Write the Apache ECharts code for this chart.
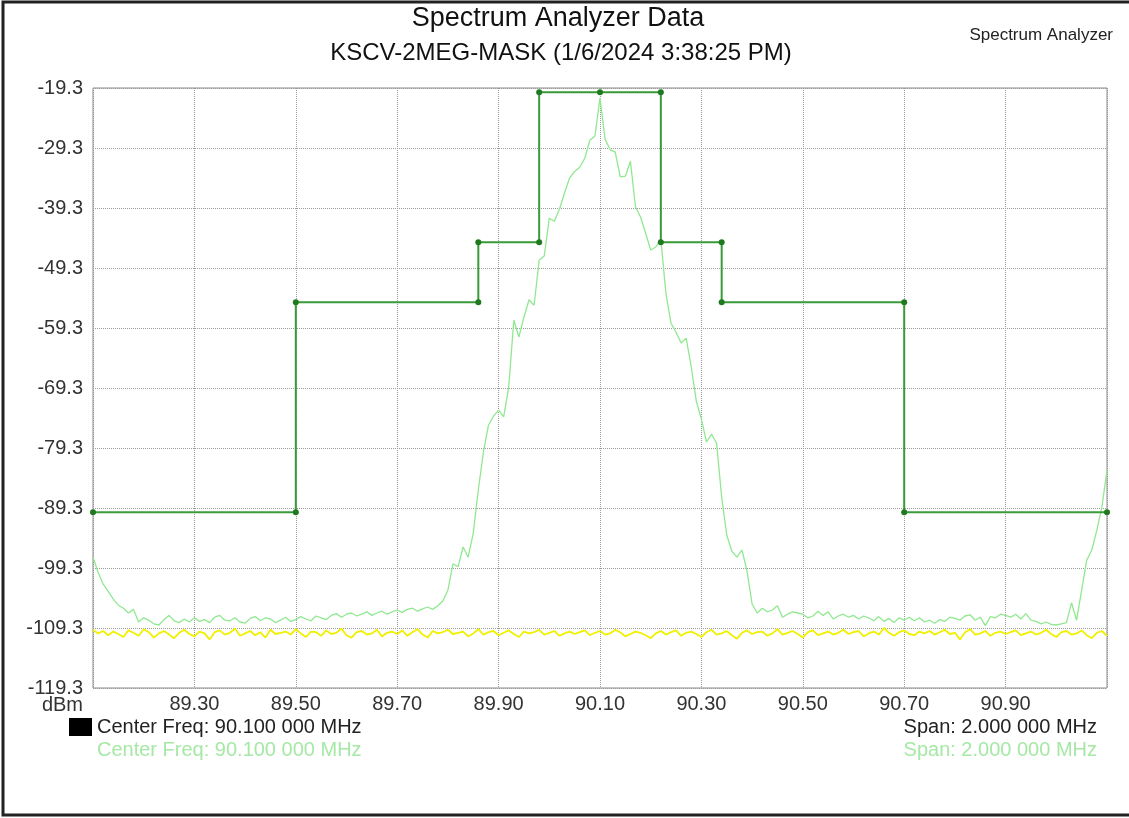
<!DOCTYPE html>
<html>
<head>
<meta charset="utf-8">
<title>Spectrum Analyzer Data</title>
<script src="https://cdn.jsdelivr.net/npm/echarts@6/dist/echarts.min.js"></script>
<style>
    html, body { margin: 0; padding: 0; background: #fff; }
    #chart { width: 1129px; height: 818px; }
</style>
</head>
<body>
<div id="chart"></div>
<script>
// sweep: 89.10 MHz .. 91.10 MHz, one bin every 10 kHz
var startFreq = 89.10;
var stepFreq = 0.01;

var xTicks = ['89.30', '89.50', '89.70', '89.90', '90.10', '90.30', '90.50', '90.70', '90.90'];
var yTicks = ['-119.3', '-109.3', '-99.3', '-89.3', '-79.3', '-69.3', '-59.3', '-49.3', '-39.3', '-29.3', '-19.3'];

// light green trace (dBm)
var traceLevels = [
    -97.5, -100.0, -102.0, -103.2, -104.5, -105.5, -106.0, -106.8, -106.2, -108.3,
    -107.6, -108.0, -108.6, -108.8, -107.9, -107.2, -108.1, -108.4, -107.8, -108.3,
    -107.6, -108.2, -107.9, -108.4, -107.5, -107.2, -108.0, -108.1, -107.6, -108.3,
    -108.5, -107.7, -107.4, -108.1, -107.6, -107.8, -108.4, -108.0, -107.5, -108.2,
    -107.9, -107.4, -107.8, -108.1, -107.3, -107.6, -107.9, -107.2, -106.9, -107.5,
    -107.0, -106.8, -107.3, -107.0, -106.6, -107.2, -106.8, -106.5, -107.0, -106.6,
    -106.3, -106.7, -106.2, -106.0, -106.5, -106.1, -105.8, -106.2, -105.6, -104.8,
    -103.0, -98.6, -99.1, -95.8, -97.5, -93.5, -86.3, -80.0, -75.5, -74.0,
    -73.0, -74.1, -69.1, -58.0, -60.8, -57.5, -54.6, -55.5, -48.0, -47.3,
    -41.0, -41.5, -39.5, -36.8, -34.3, -33.2, -32.5, -31.0, -28.0, -27.3,
    -21.0, -27.8, -29.6, -30.0, -34.1, -34.0, -31.5, -39.1, -40.8, -43.5,
    -46.3, -45.8, -44.5, -53.5, -58.5, -60.0, -61.8, -61.0, -65.8, -71.5,
    -74.5, -78.3, -77.0, -78.5, -87.5, -93.8, -96.5, -97.5, -96.3, -99.8,
    -105.3, -106.8, -106.0, -106.6, -106.3, -105.6, -107.5, -107.0, -106.6, -106.8,
    -107.0, -107.6, -107.3, -106.5, -107.2, -106.6, -107.8, -107.3, -107.0, -107.5,
    -107.2, -107.8, -107.3, -107.6, -108.1, -107.4, -108.2, -107.7, -108.4, -107.6,
    -108.0, -107.5, -108.1, -107.6, -108.3, -108.0, -108.5, -107.9, -108.2, -107.5,
    -107.7, -108.0, -107.3, -107.1, -108.0, -107.5, -108.9, -107.4, -107.6, -107.0,
    -107.2, -107.5, -107.0, -107.8, -106.9, -108.0, -108.2, -108.6, -108.3, -108.7,
    -108.8, -108.6, -108.4, -105.1, -108.0, -103.0, -98.0, -96.3, -93.0, -89.1,
    -83.0
];

// yellow noise floor trace (dBm)
var floorLevels = [
    -109.6, -110.2, -109.8, -110.5, -109.9, -110.3, -110.8, -109.7, -110.1, -110.6,
    -109.5, -110.0, -110.9, -110.2, -109.8, -110.4, -111.0, -110.1, -109.6, -110.3,
    -110.7, -109.9, -110.2, -111.2, -110.0, -109.7, -110.4, -110.1, -109.4, -110.6,
    -110.2, -109.8, -110.5, -110.0, -110.9, -109.6, -110.3, -110.1, -109.9, -110.4,
    -109.5, -110.2, -110.8, -109.9, -110.0, -110.6, -109.7, -110.3, -110.1, -109.4,
    -110.5, -110.9, -110.0, -109.8, -110.4, -110.2, -109.6, -110.7, -110.1, -109.9,
    -110.3, -109.7, -110.6, -110.0, -109.5, -110.4, -110.9, -109.8, -110.2, -110.0,
    -109.6, -110.3, -110.1, -109.9, -110.7, -110.2, -109.5, -110.4, -110.0, -109.8,
    -110.5, -110.1, -109.7, -110.3, -110.8, -109.9, -110.2, -110.0, -109.6, -110.4,
    -110.1, -109.8, -110.6, -110.2, -109.9, -110.3, -110.0, -109.7, -110.5, -110.1,
    -109.8, -110.4, -110.2, -109.6, -110.0, -110.7, -110.3, -109.9, -110.1, -110.5,
    -111.0, -110.2, -109.8, -110.4, -110.0, -109.7, -110.6, -110.1, -109.9, -110.3,
    -110.8, -110.0, -109.6, -110.4, -110.2, -109.8, -110.5, -111.1, -110.1, -109.7,
    -110.3, -110.0, -109.9, -110.6, -110.2, -109.5, -110.4, -110.1, -109.8, -110.3,
    -110.9, -110.0, -109.7, -110.5, -110.2, -109.9, -110.4, -110.1, -109.6, -110.3,
    -110.0, -109.8, -110.7, -110.2, -109.9, -110.4, -109.3, -110.1, -110.6, -110.0,
    -109.7, -110.3, -110.5, -109.9, -110.2, -109.8, -110.4, -110.0, -109.6, -110.3,
    -110.1, -111.2, -110.0, -109.5, -110.4, -110.2, -109.8, -110.6, -110.1, -109.9,
    -110.3, -110.0, -109.7, -110.5, -110.2, -109.9, -110.4, -110.1, -109.6, -110.3,
    -110.8, -110.0, -109.8, -110.4, -110.2, -109.7, -110.5, -111.0, -110.1, -109.8,
    -110.6
];

// limit mask corners
var maskFreqs = [89.10, 89.50, 89.50, 89.86, 89.86, 89.98, 89.98, 90.10, 90.22, 90.22, 90.34, 90.34, 90.70, 90.70, 91.10];
var maskLevels = [-90, -90, -55, -55, -45, -45, -20, -20, -20, -45, -45, -55, -55, -90, -90];

var FONT = 'Liberation Sans, Arial, sans-serif';

function pairs(levels) {
    var out = [];
    for (var i = 0; i < levels.length; i++) {
        out.push([+(startFreq + i * stepFreq).toFixed(2), levels[i]]);
    }
    return out;
}

var maskData = [];
for (var m = 0; m < maskFreqs.length; m++) {
    maskData.push([maskFreqs[m], maskLevels[m]]);
}

var myChart = echarts.init(document.getElementById('chart'));

var option = {
    animation: false,
    backgroundColor: '#fff',
    grid: {
        left: 93,
        right: 22,
        top: 88,
        bottom: 130,
        show: true,
        borderColor: '#8a8a8a',
        borderWidth: 1
    },
    xAxis: {
        type: 'value',
        min: 89.1,
        max: 91.1,
        interval: 0.2,
        axisLine: { show: false },
        axisTick: { show: false },
        axisLabel: {
            showMinLabel: false,
            showMaxLabel: false,
            margin: 6,
            color: '#333',
            fontSize: 20,
            fontFamily: FONT,
            formatter: function (v) {
                var s = v.toFixed(2);
                return xTicks.indexOf(s) >= 0 ? s : '';
            }
        },
        splitLine: { lineStyle: { color: '#9a9a9a', type: 'dotted', width: 1 } }
    },
    yAxis: {
        type: 'value',
        min: -119.3,
        max: -19.3,
        interval: 10,
        axisLine: { show: false },
        axisTick: { show: false },
        axisLabel: {
            margin: 10,
            color: '#333',
            fontSize: 20,
            fontFamily: FONT,
            formatter: function (v) {
                var s = v.toFixed(1);
                return yTicks.indexOf(s) >= 0 ? s : '';
            }
        },
        splitLine: { lineStyle: { color: '#9a9a9a', type: 'dotted', width: 1 } }
    },
    series: [
        {
            name: 'floor',
            type: 'line',
            data: pairs(floorLevels),
            showSymbol: false,
            lineStyle: { color: '#f0f000', width: 1.8 },
            z: 2
        },
        {
            name: 'trace',
            type: 'line',
            data: pairs(traceLevels),
            showSymbol: false,
            lineStyle: { color: '#90e890', width: 1.3 },
            z: 3
        },
        {
            name: 'mask',
            type: 'line',
            data: maskData,
            symbol: 'circle',
            symbolSize: 6,
            itemStyle: { color: '#1f7a1f' },
            lineStyle: { color: '#3a9a3a', width: 2 },
            z: 4
        }
    ],
    graphic: [
        {
            type: 'rect',
            shape: { x: 3, y: 2, width: 1140, height: 813 },
            style: { fill: 'none', stroke: '#222', lineWidth: 3 },
            silent: true
        },
        {
            type: 'text', x: 558, y: 19,
            style: { text: 'Spectrum Analyzer Data', font: '27px ' + FONT, fill: '#111', align: 'center', verticalAlign: 'middle' }
        },
        {
            type: 'text', x: 561, y: 53,
            style: { text: 'KSCV-2MEG-MASK (1/6/2024 3:38:25 PM)', font: '24px ' + FONT, fill: '#111', align: 'center', verticalAlign: 'middle' }
        },
        {
            type: 'text', x: 1113, y: 35,
            style: { text: 'Spectrum Analyzer', font: '17px ' + FONT, fill: '#222', align: 'right', verticalAlign: 'middle' }
        },
        {
            type: 'text', x: 83, y: 705,
            style: { text: 'dBm', font: '20px ' + FONT, fill: '#333', align: 'right', verticalAlign: 'middle' }
        },
        {
            type: 'rect',
            shape: { x: 69, y: 718, width: 23, height: 18 },
            style: { fill: '#000' }
        },
        {
            type: 'text', x: 97, y: 727,
            style: { text: 'Center Freq: 90.100 000 MHz', font: '20px ' + FONT, fill: '#222', align: 'left', verticalAlign: 'middle' }
        },
        {
            type: 'text', x: 97, y: 750,
            style: { text: 'Center Freq: 90.100 000 MHz', font: '20px ' + FONT, fill: '#a6e8a6', align: 'left', verticalAlign: 'middle' }
        },
        {
            type: 'text', x: 1097, y: 727,
            style: { text: 'Span: 2.000 000 MHz', font: '20px ' + FONT, fill: '#222', align: 'right', verticalAlign: 'middle' }
        },
        {
            type: 'text', x: 1097, y: 750,
            style: { text: 'Span: 2.000 000 MHz', font: '20px ' + FONT, fill: '#a6e8a6', align: 'right', verticalAlign: 'middle' }
        }
    ]
};

if (option && typeof option === 'object') {
    myChart.setOption(option, true);
}
</script>
</body>
</html>
